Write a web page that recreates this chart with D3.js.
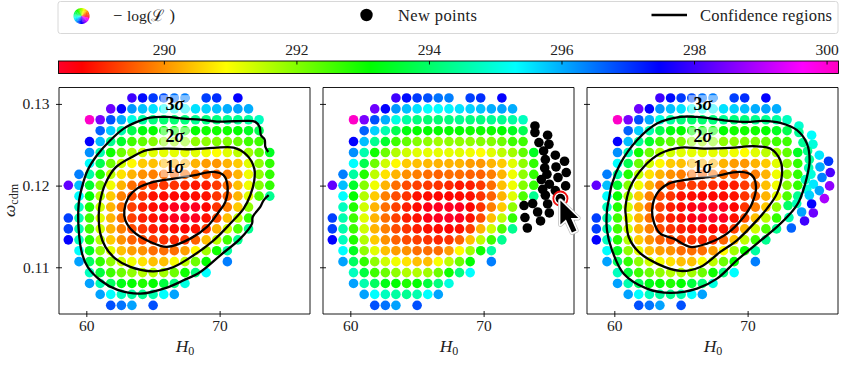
<!DOCTYPE html>
<html><head><meta charset="utf-8">
<script src="https://cdnjs.cloudflare.com/ajax/libs/d3/7.8.5/d3.min.js"></script>
<style>
html,body{margin:0;padding:0;background:#fff}
svg{display:block}
text{font-family:"Liberation Serif",serif;fill:#222}
</style></head><body>
<svg id="c" width="843" height="365"></svg>
<script>
// ---- data -------------------------------------------------------------
const gridH0=[58.65,59.45,60.24,61.04,61.83,62.63,63.42,64.22,65.01,65.81,66.6,67.4,68.19,68.99,69.78,70.58,71.37,72.17,72.96,73.76];
const gridOmega=[.13073,.12939,.12806,.12672,.12539,.12405,.12271,.12138,.12004,.11871,.11737,.11603,.1147,.11336,.11203,.11069,.10935,.10802,.10668,.10534];
const rowStart=[6,4,2,3,2,2,2,1,0,1,1,0,0,0,1,1,2,2,3,4];
const rowLogL=[
[298.0,297.4,297.0,296.8,296.5,296.4,null,296.95,297.1,null,297.5],
[298.4,297.5,296.2,295.85,295.55,295.3,295.3,295.4,295.55,295.7,295.85,296.0,296.1,296.0],
[300.1,298.5,296.8,296.0,295.05,294.5,294.2,294.1,294.1,294.2,294.35,294.2,294.2,294.35,294.35,294.5,294.75],
[296.65,295.7,294.6,293.8,293.25,293.1,293.1,293.1,293.1,293.1,293.0,293.0,293.0,293.1,293.4,293.8],
[297.5,295.85,294.35,293.5,292.6,292.3,292.0,291.9,291.75,291.9,291.9,291.9,292.0,292.0,292.2,292.6,292.6],
[296.25,294.6,293.0,292.2,291.6,291.35,291.2,291.15,291.15,291.15,291.2,291.07,290.95,291.2,291.5,291.75,292.3,293.4],
[295.3,293.8,292.2,291.35,290.9,290.5,290.4,290.35,290.3,290.3,290.3,290.1,290.05,290.3,290.5,291.2,291.9,292.7],
[296.4,294.5,292.85,291.5,290.7,290.3,290.0,289.85,289.7,289.6,289.7,289.7,289.6,289.6,289.85,290.3,291.07,291.9,292.7],
[298.3,295.85,293.5,292.0,291.07,290.3,289.7,289.4,289.3,289.25,289.2,289.1,288.95,289.0,289.25,289.7,290.4,291.07,292.0,292.7],
[295.3,293.1,291.6,290.5,289.85,289.4,289.2,288.9,288.85,288.8,288.8,288.85,288.9,289.2,289.6,290.3,291.2,292.45,294.35],
[294.75,292.85,291.35,290.3,289.7,289.3,289.0,288.85,288.6,288.5,288.5,288.5,288.8,289.2,289.85,290.5,291.9],
[296.95,294.6,292.6,291.2,290.3,289.7,289.3,289.0,288.9,288.6,288.5,288.45,288.5,288.9,289.4,290.4,291.5,292.7],
[296.95,294.6,292.6,291.35,290.3,289.85,289.4,289.2,289.0,288.9,288.85,288.8,288.9,289.3,290.3,291.35,292.45,294.35],
[297.5,294.75,292.85,291.6,290.5,290.0,289.6,289.4,289.3,289.2,289.1,289.2,289.6,290.4,291.5,292.6,294.35],
[295.3,293.4,291.9,291.2,290.4,290.1,290.0,289.7,289.7,289.7,290.1,290.9,291.75,293.0,294.5],
[296.1,293.95,292.7,291.9,291.35,291.07,290.7,290.4,290.4,291.0,291.5,292.2,293.1,null,296.4],
[294.75,293.65,292.6,292.2,291.9,291.6,291.6,291.75,292.2,293.0,294.2,295.3],
[296.1,294.6,293.95,293.3,293.1,292.85,293.1,293.65,294.2,295.05],
[296.1,295.3,294.75,294.5,294.35,294.6,295.3,296.1],
[296.8,296.5,296.1,null,296.8]
];
const newH0=[73.85,73.85,74.8,74.15,74.9,74.5,75.38,76.07,74.63,75.43,76.2,74.58,74.75,75.58,74.33,74.93,76.15,74.43,75.38,74.63,75.76,73.03,73.68,74.8,74.05,74.93,73.1,74.27,73.28];
const newOmega=[.1273,.1265,.12617,.12527,.12506,.12424,.12372,.12298,.12319,.12228,.1216,.12216,.12139,.12099,.12074,.12017,.11996,.11955,.11939,.11882,.11841,.11756,.1178,.11775,.11677,.11665,.11609,.11567,.11481];
const newLogL=[294.9,294.4,295.3,294.4,295.0,294.3,295.5,297.0,294.4,296.0,298.1,294.6,295.0,296.4,294.7,295.5,298.7,295.0,296.1,295.7,298.9,294.0,294.7,297.5,296.1,298.4,294.6,298.0,296.65];
const activeIndex=20;

const c3Left=[[73.65,.12412],[73.43,.12473],[73.38,.12563],[73.1,.12616],[73.0,.12718],[72.68,.1278],[72.05,.12792],[71.05,.12788],[69.8,.12784],[68.55,.12808],[67.3,.1282],[66.05,.12841],[64.8,.12833],[63.8,.1278],[62.8,.12698],[61.8,.12555],[60.8,.12371],[60.1,.12188],[59.68,.11984],[59.43,.11779],[59.43,.11453],[59.68,.11167],[60.1,.11004],[61.05,.10841],[62.3,.10726],[64.05,.10677],[66.05,.10751],[67.3,.10841],[68.55,.10943],[70.05,.11147],[71.55,.11351],[72.43,.11535],[72.48,.11616],[73.05,.11739],[73.3,.1182],[73.68,.11882]];
const c2Left=[[60.93,.11637],[61.05,.11412],[61.43,.11249],[62.18,.11106],[63.3,.11004],[65.05,.10951],[66.55,.11004],[68.05,.11147],[69.55,.1133],[70.8,.11535],[71.8,.11718],[72.3,.11882],[72.6,.12065],[72.6,.12208],[72.05,.12371],[71.05,.12465],[69.55,.12461],[67.55,.12445],[66.05,.12453],[64.55,.12433],[63.43,.12351],[62.18,.1222],[61.43,.12024],[61.05,.1182]];
const c1Left=[[62.85,.11698],[62.93,.11575],[63.55,.11433],[64.8,.1131],[66.05,.11249],[67.8,.11351],[69.05,.11494],[69.93,.11677],[70.43,.118],[70.6,.11984],[70.3,.12126],[69.55,.12167],[68.05,.12126],[66.55,.12086],[65.05,.12045],[63.8,.11963],[63.18,.11861]];
const c3Right=[[59.45,.11698],[59.45,.11453],[59.83,.11208],[60.7,.10922],[62.45,.10739],[64.2,.10686],[66.2,.10739],[67.7,.10861],[69.2,.11086],[70.7,.1129],[72.2,.11494],[73.2,.11657],[73.83,.118],[74.45,.12106],[74.65,.1231],[74.45,.12514],[73.7,.12678],[72.45,.12767],[71.2,.12792],[69.95,.1278],[68.2,.128],[66.2,.12841],[64.95,.12841],[63.2,.12759],[61.7,.12555],[60.45,.12269],[59.83,.12024],[59.58,.1182]];
const c2Right=[[60.88,.11616],[61.08,.11371],[61.83,.11188],[63.2,.11045],[64.95,.10955],[66.45,.11004],[67.95,.11188],[69.2,.1133],[70.7,.11575],[71.45,.11718],[72.2,.11902],[72.58,.12147],[72.45,.1231],[71.7,.12453],[70.45,.12482],[68.7,.12461],[66.7,.12453],[64.95,.12465],[63.45,.12392],[62.2,.12228],[61.2,.11984],[60.83,.11718]];
const c1Right=[[62.83,.11698],[63.0,.11535],[63.45,.11412],[64.45,.11351],[65.7,.11249],[66.95,.1129],[68.45,.11412],[69.7,.11616],[70.33,.1178],[70.63,.11984],[70.33,.12126],[69.45,.12167],[67.45,.12114],[65.45,.12073],[64.08,.12024],[63.2,.11902]];

const sigmaLabels=["1","2","3"];
const sigmaY=[.12212,.12592,.12985];
const xTicks=[60,70];
const yTicks=[.11,.12,.13];
const cbTicks=[290,292,294,296,298,300];
const cbDomain=[288.41,300.18];
// gist_rainbow anchors
const rainbowT=[0,.03,.215,.4,.586,.77,.954,1];
const rainbowC=["#ff0029","#ff0000","#ffff00","#00ff00","#00ffff","#0000ff","#ff00ff","#ff00bf"];

// ---- scales -----------------------------------------------------------
const tToV=d3.scaleLinear().domain([0,1]).range(cbDomain);
const color=d3.scaleLinear().domain(rainbowT.map(tToV)).range(rainbowC).clamp(true);
const cbX=d3.scaleLinear().domain(cbDomain).range([58.5,838.5]);
const W=251,TOP=87.5,H=226.5;
const x=d3.scaleLinear().domain([57.95,76.78]).range([0,W]);
const y=d3.scaleLinear().domain([.10428,.13201]).range([H,0]);
const svg=d3.select("#c");
const defs=svg.append("defs");

// ---- legend -----------------------------------------------------------
svg.append("rect").attr("x",58).attr("y",1.5).attr("width",780).attr("height",32).attr("rx",2.5)
  .attr("fill","#fff").attr("stroke","#d8d8d8").attr("stroke-width",1);
const wheel=svg.append("g").attr("transform","translate(81.5,16)");
const wheelSteps=d3.range(0,1,1/40);
const arc=d3.arc().innerRadius(0).outerRadius(8);
wheel.selectAll("path").data(wheelSteps).join("path")
  .attr("d",t=>{const a=(100-360*t)*Math.PI/180;return arc({startAngle:a-0.09,endAngle:a+0.09});})
  .attr("fill",t=>color(tToV(t)));
const legendFont=16.5;
function lt(xx,yy,len){return svg.append("text").attr("x",xx).attr("y",yy).attr("font-size",legendFont)
  .attr("textLength",len).attr("lengthAdjust","spacing");}
svg.append("text").attr("x",113).attr("y",21).attr("font-size",legendFont).text("\u2212");
svg.append("text").attr("x",127).attr("y",21).attr("font-size",15.5).text("log(");
svg.append("text").attr("x",151).attr("y",21).attr("font-family","'DejaVu Serif'").attr("font-size",16).text("\u2112");
svg.append("text").attr("x",169.5).attr("y",21).attr("font-size",legendFont).text(")");
svg.append("circle").attr("cx",366.5).attr("cy",15).attr("r",6.2).attr("fill","#000");
lt(398,21,79).text("New points");
svg.append("line").attr("x1",651.5).attr("x2",687).attr("y1",15).attr("y2",15).attr("stroke","#000").attr("stroke-width",2.4);
lt(700,21,132).text("Confidence regions");

// ---- colorbar ---------------------------------------------------------
const grad=defs.append("linearGradient").attr("id","cb");
rainbowT.forEach((t,i)=>grad.append("stop").attr("offset",t).attr("stop-color",rainbowC[i]));
svg.append("rect").attr("x",cbX.range()[0]).attr("y",61).attr("width",780).attr("height",12.5).attr("fill","url(#cb)");
svg.append("rect").attr("x",cbX.range()[0]).attr("y",61).attr("width",780).attr("height",12.5).attr("fill","none").attr("stroke","#000").attr("stroke-width",0.9);
const cbAxis=d3.axisTop(cbX).tickValues(cbTicks).tickFormat(d3.format("d")).tickSizeInner(0).tickSizeOuter(0).tickPadding(6.5);
const cbg=svg.append("g").attr("transform","translate(0,61)").call(cbAxis);
cbg.select(".domain").remove();
cbg.selectAll(".tick line").attr("y1",0).attr("y2",3.5).attr("stroke","#000").attr("stroke-width",0.9);
cbg.selectAll(".tick text").attr("font-size",15.5).attr("font-family","Liberation Serif").attr("fill","#222");

// ---- panels -----------------------------------------------------------
const line=d3.line().x(d=>x(d[0])).y(d=>y(d[1])).curve(d3.curveCatmullRom.alpha(.5));
const lineC=d3.line().x(d=>x(d[0])).y(d=>y(d[1])).curve(d3.curveCatmullRomClosed.alpha(.5));
const gridPoints=[];
rowLogL.forEach((row,r)=>row.forEach((v,i)=>{if(v!==null)gridPoints.push({h:gridH0[rowStart[r]+i],o:gridOmega[r],v});}));
const newPoints=newH0.map((h,i)=>({h,o:newOmega[i],v:newLogL[i]}));
const R=4.8;

function panel(left,opt){
  const g=svg.append("g").attr("transform",`translate(${left},${TOP})`);
  g.append("g").selectAll("circle").data(gridPoints).join("circle")
    .attr("cx",d=>x(d.h)).attr("cy",d=>y(d.o)).attr("r",R).attr("fill",d=>color(d.v));
  if(opt.news==="black")g.append("g").selectAll("circle").data(newPoints).join("circle")
    .attr("cx",d=>x(d.h)).attr("cy",d=>y(d.o)).attr("r",R).attr("fill","#000");
  if(opt.news==="color")g.append("g").selectAll("circle").data(newPoints).join("circle")
    .attr("cx",d=>x(d.h)).attr("cy",d=>y(d.o)).attr("r",R).attr("fill",d=>color(d.v));
  if(opt.contours){
    opt.contours.forEach(c=>g.append("path").attr("d",(c.closed?lineC:line)(c.pts)).attr("fill","none")
      .attr("stroke","#000").attr("stroke-width",2.3).attr("stroke-linejoin","round"));
    sigmaLabels.forEach((s,i)=>{
      const px=x(66.65),py=y(sigmaY[i]);
      g.append("rect").attr("x",px-14.5).attr("y",py-10).attr("width",29).attr("height",19)
        .attr("fill","#fff").attr("fill-opacity",.5);
      const t=g.append("text").attr("x",px).attr("y",py+5.2).attr("text-anchor","middle").attr("font-size",18).style("fill","#000");
      t.append("tspan").attr("font-weight","bold").text(s);
      t.append("tspan").attr("font-style","italic").attr("font-weight","bold").text("\u03c3");
    });
  }
  const ax=g.append("g").attr("transform",`translate(0,${H})`).call(d3.axisBottom(x).tickValues(xTicks).tickFormat(d3.format("d")).tickSizeOuter(0).tickPadding(0));
  ax.select(".domain").remove();
  ax.selectAll(".tick line").attr("y1",-3).attr("y2",3).attr("stroke","#000").attr("stroke-width",.9);
  ax.selectAll(".tick text").attr("font-size",15.5).attr("font-family","Liberation Serif").attr("fill","#222");
  const ay=g.append("g").call(d3.axisLeft(y).tickValues(yTicks).tickFormat(opt.yLabels?d3.format(".2f"):"").tickSizeOuter(0).tickPadding(3.5));
  ay.select(".domain").remove();
  ay.selectAll(".tick line").attr("x1",-3).attr("x2",3).attr("stroke","#000").attr("stroke-width",.9);
  ay.selectAll(".tick text").attr("font-size",15.5).attr("font-family","Liberation Serif").attr("fill","#222");
  // spines
  g.append("line").attr("x1",0).attr("x2",W).attr("y1",0).attr("y2",0).attr("stroke","#000").attr("stroke-width",.9);
  g.append("line").attr("x1",0).attr("x2",W).attr("y1",H).attr("y2",H).attr("stroke","#000").attr("stroke-width",.9);
  g.append("line").attr("x1",0).attr("x2",0).attr("y1",0).attr("y2",H).attr("stroke","#000").attr("stroke-width",.9);
  g.append("line").attr("x1",W).attr("x2",W).attr("y1",0).attr("y2",H).attr("stroke","#000").attr("stroke-width",.9);
  const xl=g.append("text").attr("x",W/2+.5).attr("y",264).attr("text-anchor","middle").attr("font-size",17.5);
  xl.append("tspan").attr("font-style","italic").text("H");
  xl.append("tspan").attr("font-size",12).attr("dy",3).text("0");
  return g;
}
panel(59,{yLabels:true,contours:[{pts:c3Left},{pts:c2Left,closed:true},{pts:c1Left,closed:true}]});
panel(323,{news:"black"});
panel(587,{news:"color",contours:[{pts:c3Right,closed:true},{pts:c2Right,closed:true},{pts:c1Right,closed:true}]});

const yl=svg.append("text").attr("transform","translate(14.5,200.5) rotate(-90)").attr("text-anchor","middle").attr("font-size",17.5);
yl.append("tspan").attr("font-style","italic").text("\u03c9");
yl.append("tspan").attr("font-size",12).attr("dy",3).text("cdm");

// ---- highlighted new point + cursor ------------------------------------
const act=newPoints[activeIndex];
const ax0=323+x(act.h),ay0=TOP+y(act.o);
svg.append("circle").attr("cx",ax0).attr("cy",ay0).attr("r",7.1).attr("fill","#fff").attr("stroke","#f01010").attr("stroke-width",1.8);
svg.append("circle").attr("cx",ax0).attr("cy",ay0).attr("r",R).attr("fill","#000");
const cursorShape=[[0,0],[0,24],[5.5,19],[11.5,32],[16,30],[10.5,17.5],[18,17.5]];
const cursorPath=d3.line()(cursorShape)+"Z";
const cur=svg.append("g").attr("transform",`translate(${ax0},${ay0+2})`);
cur.append("path").attr("d",cursorPath).attr("fill","none").attr("stroke","#bdbdbd").attr("stroke-width",4.6).attr("stroke-linejoin","round");
cur.append("path").attr("d",cursorPath).attr("fill","none").attr("stroke","#fff").attr("stroke-width",3.2).attr("stroke-linejoin","round");
cur.append("path").attr("d",cursorPath).attr("fill","#000");
</script>
</body></html>
